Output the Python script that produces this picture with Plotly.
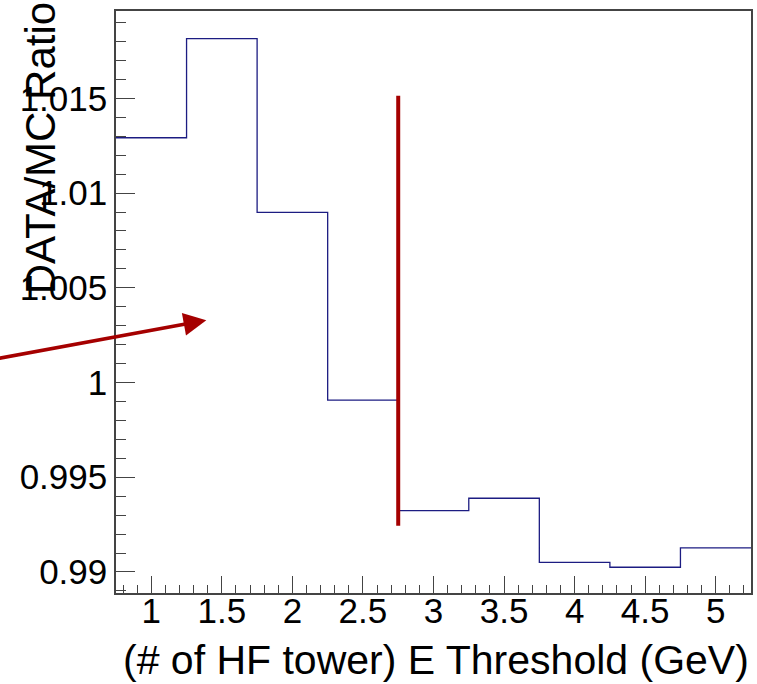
import plotly.graph_objects as go

# Bin centres of the tower energy threshold (GeV) and the DATA/MC ratio per bin
thresholds = [1.0, 1.5, 2.0, 2.5, 3.0, 3.5, 4.0, 4.5, 5.0]
ratios = [1.01292, 1.01815, 1.00898, 0.99907, 0.99324, 0.99389, 0.99051, 0.99025, 0.99127]
bin_width = 0.5

# Chosen threshold marker and arrow
cut_x = 2.75
cut_y = [0.99244, 1.01514]
arrow_tail = (-0.12, 1.00122)
arrow_tip = (1.39, 1.00329)

y_ticks = [0.99, 0.995, 1.0, 1.005, 1.01, 1.015]
y_tick_labels = ["0.99", "0.995", "1", "1.005", "1.01", "1.015"]
x_ticks = [1, 1.5, 2, 2.5, 3, 3.5, 4, 4.5, 5]
x_tick_labels = ["1", "1.5", "2", "2.5", "3", "3.5", "4", "4.5", "5"]

FONT = "Liberation Sans, Arial, Helvetica, sans-serif"
AXIS_COLOR = "#444444"

# step outline from bin edges
edges = [c - bin_width / 2 for c in thresholds] + [thresholds[-1] + bin_width / 2]
step_y = ratios + [ratios[-1]]

fig = go.Figure()
fig.add_trace(go.Scatter(
    x=edges, y=step_y, mode="lines", line=dict(color="#1c1c82", width=1.3, shape="hv"),
    showlegend=False, hoverinfo="skip",
))
fig.add_trace(go.Scatter(
    x=[cut_x, cut_x], y=cut_y, mode="lines", line=dict(color="#a50000", width=4),
    showlegend=False, hoverinfo="skip",
))

fig.add_annotation(
    x=arrow_tip[0], y=arrow_tip[1], ax=arrow_tail[0], ay=arrow_tail[1],
    xref="x", yref="y", axref="x", ayref="y", text="",
    showarrow=True, arrowhead=2, arrowsize=1.3, arrowwidth=3.5, arrowcolor="#a50000",
)

# axis titles, drawn in the ROOT style (y title over the labels, x title right-aligned)
fig.add_annotation(
    x=-0.1197, y=0.7640, xref="paper", yref="paper", text="DATA/MC Ratio",
    textangle=-90, showarrow=False, xanchor="center", yanchor="middle",
    font=dict(family=FONT, size=42, color="black"),
)
fig.add_annotation(
    x=1.0, y=-0.1151, xref="paper", yref="paper", text="(# of HF tower) E Threshold (GeV)",
    showarrow=False, xanchor="right", yanchor="middle",
    font=dict(family=FONT, size=41, color="black"),
)

fig.update_xaxes(
    range=[0.75, 5.25], tickmode="array", tickvals=x_ticks, ticktext=x_tick_labels,
    ticks="inside", ticklen=17, tickwidth=1.2, tickcolor=AXIS_COLOR,
    minor=dict(tick0=0.0, dtick=0.1, ticks="inside", ticklen=8.5, tickcolor=AXIS_COLOR, tickwidth=1),
    showline=True, linecolor=AXIS_COLOR, linewidth=1.5, mirror=True,
    showgrid=False, zeroline=False, ticklabelstandoff=-14,
    tickfont=dict(family=FONT, size=35, color="black"),
)
fig.update_yaxes(
    range=[0.98889, 1.01961], tickmode="array", tickvals=y_ticks, ticktext=y_tick_labels,
    ticks="inside", ticklen=19, tickwidth=1.2, tickcolor=AXIS_COLOR,
    minor=dict(tick0=0.99, dtick=0.001, ticks="inside", ticklen=10, tickcolor=AXIS_COLOR, tickwidth=1),
    showline=True, linecolor=AXIS_COLOR, linewidth=1.5, mirror=True,
    showgrid=False, zeroline=False,
    tickfont=dict(family=FONT, size=35, color="black"),
)

fig.update_layout(
    width=757, height=684,
    margin=dict(l=116, r=6, t=11, b=91, autoexpand=False),
    paper_bgcolor="white", plot_bgcolor="white",
    font=dict(family=FONT, color="black"),
)

fig.write_html("out.html")
